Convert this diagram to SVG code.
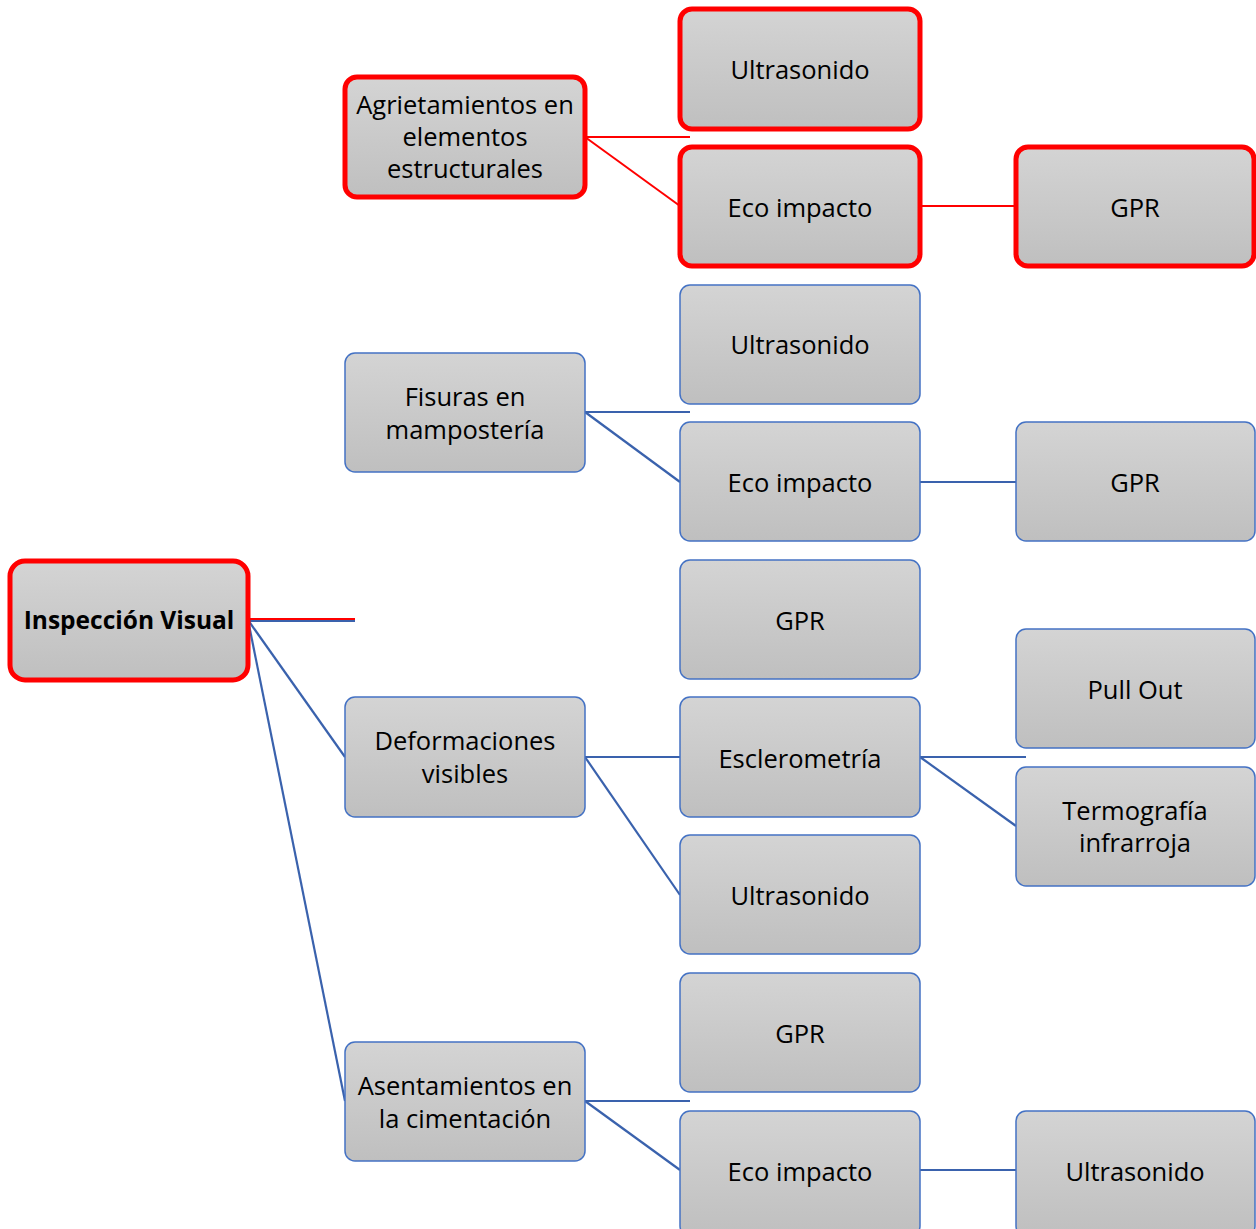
<svg xmlns="http://www.w3.org/2000/svg" width="1256" height="1229" viewBox="0 0 1256 1229">
<defs>
<linearGradient id="g" x1="0" y1="0" x2="0" y2="1">
<stop offset="0" stop-color="#d4d4d4"/>
<stop offset="1" stop-color="#bfbfbf"/>
</linearGradient>
<style>
.b{fill:url(#g);stroke:#4472c4;stroke-width:1.5}
.r{fill:url(#g);stroke:#ff0000;stroke-width:5}
.t{font-family:"Open Sans","Liberation Sans",sans-serif;font-size:25.5px;fill:#000;text-anchor:middle}
.tb{font-weight:bold;font-size:24.5px}
.cb{stroke:#3a62ad;stroke-width:2.2;fill:none}
.cr{stroke:#ff0000;stroke-width:2;fill:none}
</style>
</defs>
<rect width="1256" height="1229" fill="#fff"/>
<g id="connectors">
<line class="cb" x1="248" y1="621" x2="355" y2="621"/>
<line class="cr" x1="248" y1="619" x2="355" y2="619"/>
<line class="cb" x1="248" y1="620" x2="345" y2="757"/>
<line class="cb" x1="248" y1="620" x2="345" y2="1101"/>
<line class="cr" x1="585" y1="137" x2="690" y2="137"/>
<line class="cr" x1="585" y1="137" x2="680" y2="206"/>
<line class="cr" x1="920" y1="206" x2="1016" y2="206"/>
<line class="cb" x1="585" y1="412" x2="690" y2="412"/>
<line class="cb" x1="585" y1="412" x2="680" y2="482"/>
<line class="cb" x1="920" y1="482" x2="1016" y2="482"/>
<line class="cb" x1="585" y1="757" x2="680" y2="757"/>
<line class="cb" x1="585" y1="757" x2="680" y2="895"/>
<line class="cb" x1="920" y1="757" x2="1026" y2="757"/>
<line class="cb" x1="920" y1="757" x2="1016" y2="826"/>
<line class="cb" x1="585" y1="1101" x2="690" y2="1101"/>
<line class="cb" x1="585" y1="1101" x2="680" y2="1170"/>
<line class="cb" x1="920" y1="1170" x2="1016" y2="1170"/>
</g>
<g id="n-inspeccion"><rect class="r" x="10" y="561" width="238" height="119" rx="15"/><text class="t tb" x="129" y="629">Inspección Visual</text></g>
<g id="n-agrietamientos"><rect class="r" x="345" y="77" width="240" height="120" rx="12"/><text class="t" x="465" y="114">Agrietamientos en</text><text class="t" x="465" y="146">elementos</text><text class="t" x="465" y="178">estructurales</text></g>
<g id="n-ultra1"><rect class="r" x="680" y="9" width="240" height="120" rx="12"/><text class="t" x="800" y="79">Ultrasonido</text></g>
<g id="n-eco1"><rect class="r" x="680" y="147" width="240" height="119" rx="12"/><text class="t" x="800" y="217">Eco impacto</text></g>
<g id="n-gpr1"><rect class="r" x="1016" y="147" width="238" height="119" rx="12"/><text class="t" x="1135" y="217">GPR</text></g>
<g id="n-fisuras"><rect class="b" x="345" y="353" width="240" height="119" rx="10"/><text class="t" x="465" y="406">Fisuras en</text><text class="t" x="465" y="439">mampostería</text></g>
<g id="n-ultra2"><rect class="b" x="680" y="285" width="240" height="119" rx="10"/><text class="t" x="800" y="354">Ultrasonido</text></g>
<g id="n-eco2"><rect class="b" x="680" y="422" width="240" height="119" rx="10"/><text class="t" x="800" y="492">Eco impacto</text></g>
<g id="n-gpr2"><rect class="b" x="1016" y="422" width="239" height="119" rx="10"/><text class="t" x="1135" y="492">GPR</text></g>
<g id="n-gpr3"><rect class="b" x="680" y="560" width="240" height="119" rx="10"/><text class="t" x="800" y="630">GPR</text></g>
<g id="n-deformaciones"><rect class="b" x="345" y="697" width="240" height="120" rx="10"/><text class="t" x="465" y="750">Deformaciones</text><text class="t" x="465" y="783">visibles</text></g>
<g id="n-esclerometria"><rect class="b" x="680" y="697" width="240" height="120" rx="10"/><text class="t" x="800" y="768">Esclerometría</text></g>
<g id="n-ultra3"><rect class="b" x="680" y="835" width="240" height="119" rx="10"/><text class="t" x="800" y="905">Ultrasonido</text></g>
<g id="n-pullout"><rect class="b" x="1016" y="629" width="239" height="119" rx="10"/><text class="t" x="1135" y="699">Pull Out</text></g>
<g id="n-termografia"><rect class="b" x="1016" y="767" width="239" height="119" rx="10"/><text class="t" x="1135" y="820">Termografía</text><text class="t" x="1135" y="852">infrarroja</text></g>
<g id="n-gpr4"><rect class="b" x="680" y="973" width="240" height="119" rx="10"/><text class="t" x="800" y="1043">GPR</text></g>
<g id="n-asentamientos"><rect class="b" x="345" y="1042" width="240" height="119" rx="10"/><text class="t" x="465" y="1095">Asentamientos en</text><text class="t" x="465" y="1128">la cimentación</text></g>
<g id="n-eco3"><rect class="b" x="680" y="1111" width="240" height="125" rx="10"/><text class="t" x="800" y="1181">Eco impacto</text></g>
<g id="n-ultra4"><rect class="b" x="1016" y="1111" width="239" height="125" rx="10"/><text class="t" x="1135" y="1181">Ultrasonido</text></g>
</svg>
